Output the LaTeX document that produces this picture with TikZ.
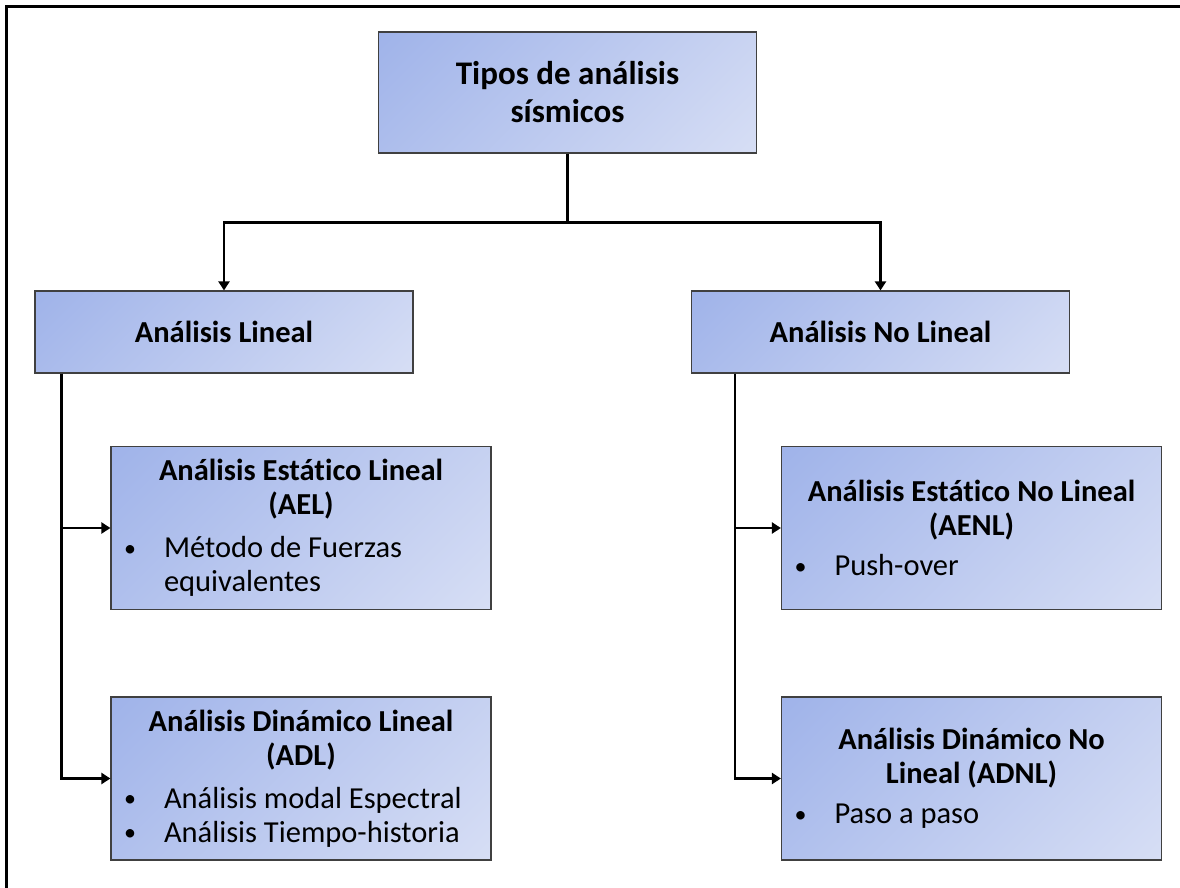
\documentclass[tikz,border=0pt]{standalone}
\usepackage{fontspec}
\setmainfont{Carlito}[Ligatures=NoCommon]
\usetikzlibrary{arrows.meta,calc}

\definecolor{boxdark}{RGB}{148,170,231}
\definecolor{boxlight}{RGB}{226,231,247}
\definecolor{boxline}{RGB}{64,64,64}

% gradient running over the whole length of its axis
\pgfdeclareverticalshading{boxfill}{100bp}{color(0bp)=(boxlight); color(100bp)=(boxdark)}

% one bullet line, and its continuation, inside a method box
\newcommand{\smallbullet}{\raisebox{1.5pt}{\fontsize{24}{24}\selectfont\textbullet}}
\newcommand{\itemline}[1]{\makebox[372pt][l]{\makebox[49pt][l]{\hspace*{9pt}\smallbullet}#1}}
\newcommand{\moreline}[1]{\makebox[372pt][l]{\hspace*{49pt}#1}}

\tikzset{
  shadedbox/.style={draw=boxline, line width=1.2pt, shading=boxfill,
    shading angle=45, inner sep=0pt},
  rootbox/.style={shadedbox, minimum width=378pt, minimum height=121pt,
    align=center, font=\fontsize{33}{38}\selectfont\bfseries},
  familybox/.style={shadedbox, minimum width=378pt, minimum height=82pt,
    font=\fontsize{30.5}{34}\selectfont\bfseries},
  methodbox/.style={shadedbox, minimum width=380pt, minimum height=163pt,
    align=center, font=\fontsize{30.5}{34}\selectfont},
  link/.style={line width=2.4pt, draw=black},
  arrowlink/.style={link, -{Triangle[length=9pt,width=11pt]}},
  frame/.style={line width=3pt, draw=black}
}

\begin{document}
\begin{tikzpicture}[x=1pt, y=-1pt]
  \useasboundingbox (0,0) rectangle (1180,888);

  % outer frame (top and left edges)
  \draw[frame] (6,888) -- (6,7) -- (1180,7);

  % root
  \node[rootbox] (root) at (567.5,92.5) {Tipos de análisis\\sísmicos};

  % the two families
  \node[familybox] (lin)   at (224,332)   {Análisis Lineal};
  \node[familybox] (nolin) at (880.5,332) {Análisis No Lineal};

  % methods
  \node[methodbox] (ael) at (301,528) {%
    \textbf{Análisis Estático Lineal}\\\textbf{(AEL)}\\[9pt]
    \itemline{Método de Fuerzas}\\
    \moreline{equivalentes}};
  \node[methodbox] (adl) at (301,778.5) {%
    \textbf{Análisis Dinámico Lineal}\\\textbf{(ADL)}\\[9pt]
    \itemline{Análisis modal Espectral}\\
    \itemline{Análisis Tiempo-historia}};
  \node[methodbox] (aenl) at (971.5,528) {%
    \textbf{Análisis Estático No Lineal}\\\textbf{(AENL)}\\[6pt]
    \itemline{Push-over}};
  \node[methodbox] (adnl) at (971.5,778.5) {%
    \textbf{Análisis Dinámico No}\\\textbf{Lineal (ADNL)}\\[6pt]
    \itemline{Paso a paso}};

  % root to families
  \coordinate (split) at ($(root.south)+(0,69)$);
  \draw[link] (root.south) -- (split);
  \draw[arrowlink] (split) -| (lin.north);
  \draw[arrowlink] (split) -| (nolin.north);

  % families to methods
  \coordinate (lspine) at ($(lin.south west)+(27,0)$);
  \coordinate (rspine) at ($(nolin.south west)+(44,0)$);
  \draw[arrowlink] (lspine) |- (ael.west);
  \draw[arrowlink] (lspine) |- (adl.west);
  \draw[arrowlink] (rspine) |- (aenl.west);
  \draw[arrowlink] (rspine) |- (adnl.west);
\end{tikzpicture}
\end{document}
